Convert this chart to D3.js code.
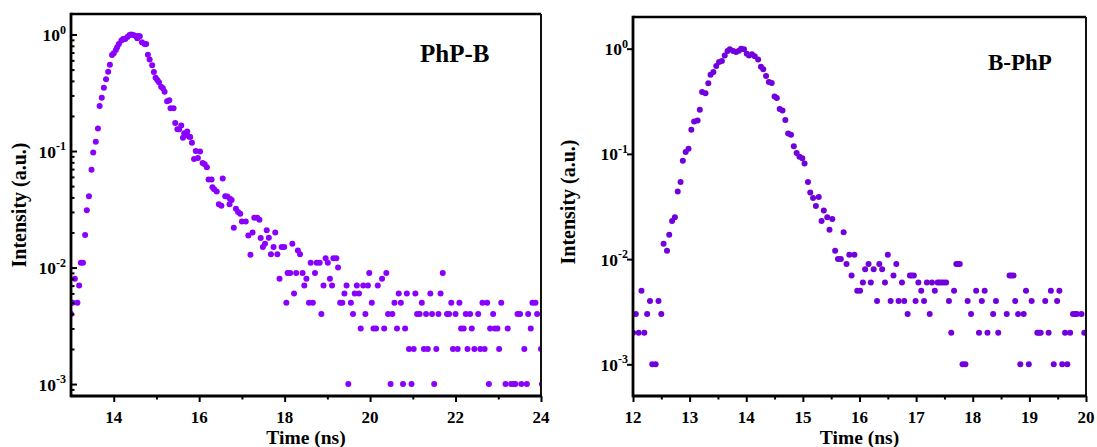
<!DOCTYPE html>
<html>
<head>
<meta charset="utf-8">
<script src="https://cdn.jsdelivr.net/npm/d3@7"></script>
<style>
  body { margin: 0; background: #fff; }
  svg { display: block; font-family: "Liberation Serif", "Times New Roman", serif; font-weight: bold; }
</style>
</head>
<body>
<svg id="chart" width="1097" height="447"></svg>
<script>
// PhP-B decay, left panel (time in ns, normalized intensity)
const timeA = [
  13.00, 13.04, 13.09, 13.15, 13.19, 13.23, 13.28, 13.33, 13.37, 13.42,
  13.48, 13.52, 13.58, 13.63, 13.67, 13.72, 13.77, 13.82, 13.87, 13.91,
  13.96, 14.00, 14.05, 14.08, 14.12, 14.18, 14.22, 14.27, 14.32, 14.37,
  14.41, 14.46, 14.52, 14.55, 14.57, 14.61, 14.66, 14.72, 14.76, 14.80,
  14.84, 14.90, 14.94, 14.98, 15.02, 15.06, 15.11, 15.15, 15.19, 15.25,
  15.30, 15.33, 15.40, 15.44, 15.49, 15.53, 15.58, 15.62, 15.65, 15.68,
  15.72, 15.76, 15.79, 15.83, 15.88, 15.92, 15.97, 16.02, 16.08, 16.13,
  16.18, 16.22, 16.29, 16.31, 16.35, 16.41, 16.46, 16.52, 16.55, 16.61,
  16.66, 16.71, 16.72, 16.76, 16.81, 16.86, 16.91, 16.96, 17.00, 17.09,
  17.15, 17.20, 17.25, 17.29, 17.36, 17.41, 17.44, 17.49, 17.54, 17.58,
  17.63, 17.68, 17.74, 17.78, 17.83, 17.88, 17.93, 17.99, 18.04, 18.07,
  18.13, 18.18, 18.22, 18.27, 18.31, 18.36, 18.42, 18.46, 18.51, 18.57,
  18.61, 18.66, 18.71, 18.75, 18.82, 18.86, 18.91, 18.96, 19.01, 19.06,
  19.11, 19.14, 19.21, 19.25, 19.30, 19.35, 19.40, 19.45, 19.49, 19.55,
  19.60, 19.64, 19.69, 19.74, 19.78, 19.84, 19.89, 19.95, 19.98, 20.04,
  20.08, 20.14, 20.18, 20.28, 20.33, 20.38, 20.42, 20.48, 20.52, 20.57,
  20.63, 20.67, 20.72, 20.77, 20.82, 20.86, 20.91, 20.97, 21.02, 21.06,
  21.10, 21.16, 21.21, 21.26, 21.31, 21.35, 21.41, 21.45, 21.50, 21.55,
  21.60, 21.65, 21.70, 21.80, 21.85, 21.90, 21.94, 22.00, 22.05, 22.09,
  22.13, 22.19, 22.24, 22.28, 22.34, 22.38, 22.44, 22.53, 22.58, 22.63,
  22.68, 22.74, 22.78, 22.81, 22.88, 22.92, 22.98, 23.02, 23.07, 23.17,
  23.22, 23.30, 23.36, 23.40, 23.45, 23.51, 23.54, 23.61, 23.67, 23.70,
  23.76, 23.80, 23.87, 23.91, 24.00, 24.02
];
const intA = [
  0.004, 0.005, 0.008, 0.005, 0.007, 0.011, 0.011, 0.019, 0.031, 0.041,
  0.069, 0.097, 0.12, 0.156, 0.244, 0.287, 0.35, 0.413, 0.48, 0.55,
  0.667, 0.69, 0.736, 0.776, 0.83, 0.89, 0.915, 0.915, 0.95, 0.99,
  1.0, 0.99, 0.965, 0.93, 0.97, 0.965, 0.857, 0.83, 0.83, 0.67,
  0.61, 0.544, 0.477, 0.426, 0.407, 0.389, 0.357, 0.346, 0.323, 0.267,
  0.273, 0.233, 0.233, 0.174, 0.154, 0.154, 0.166, 0.13, 0.142, 0.137,
  0.147, 0.133, 0.132, 0.118, 0.0855, 0.1, 0.087, 0.099, 0.079, 0.077,
  0.0726, 0.057, 0.057, 0.049, 0.047, 0.045, 0.035, 0.034, 0.058, 0.041,
  0.0407, 0.035, 0.039, 0.038, 0.022, 0.032, 0.030, 0.029, 0.0248, 0.0248,
  0.0188, 0.0129, 0.020, 0.0268, 0.0268, 0.0257, 0.0179, 0.015, 0.016, 0.0209,
  0.018, 0.013, 0.015, 0.020, 0.013, 0.008, 0.015, 0.015, 0.005, 0.009,
  0.009, 0.016, 0.006, 0.009, 0.014, 0.013, 0.009, 0.007, 0.008, 0.005,
  0.011, 0.005, 0.009, 0.011, 0.011, 0.004, 0.007, 0.012, 0.011, 0.008,
  0.007, 0.012, 0.012, 0.010, 0.005, 0.005, 0.006, 0.007, 0.001, 0.005,
  0.004, 0.006, 0.007, 0.006, 0.003, 0.007, 0.004, 0.007, 0.009, 0.005,
  0.003, 0.003, 0.007, 0.008, 0.003, 0.009, 0.004, 0.001, 0.004, 0.005,
  0.003, 0.006, 0.005, 0.001, 0.003, 0.006, 0.002, 0.001, 0.002, 0.006,
  0.004, 0.004, 0.005, 0.002, 0.004, 0.002, 0.006, 0.004, 0.001, 0.002,
  0.004, 0.006, 0.009, 0.004, 0.004, 0.005, 0.002, 0.004, 0.002, 0.005,
  0.003, 0.003, 0.004, 0.002, 0.004, 0.003, 0.002, 0.004, 0.002, 0.005,
  0.002, 0.005, 0.001, 0.003, 0.004, 0.003, 0.003, 0.002, 0.005, 0.001,
  0.003, 0.001, 0.001, 0.001, 0.004, 0.004, 0.001, 0.002, 0.001, 0.004,
  0.003, 0.005, 0.005, 0.004, 0.002, 0.001
];

// B-PhP decay, right panel
const timeB = [
  12.00, 12.05, 12.10, 12.15, 12.20, 12.25, 12.30, 12.34, 12.40, 12.45,
  12.50, 12.54, 12.60, 12.64, 12.69, 12.74, 12.79, 12.84, 12.88, 12.93,
  12.98, 13.03, 13.08, 13.14, 13.18, 13.22, 13.28, 13.33, 13.37, 13.42,
  13.47, 13.52, 13.57, 13.62, 13.67, 13.71, 13.77, 13.82, 13.87, 13.91,
  13.96, 14.01, 14.05, 14.10, 14.15, 14.21, 14.26, 14.30, 14.35, 14.40,
  14.45, 14.50, 14.54, 14.59, 14.64, 14.69, 14.74, 14.79, 14.84, 14.89,
  14.94, 14.99, 15.03, 15.09, 15.13, 15.18, 15.23, 15.28, 15.33, 15.37,
  15.43, 15.47, 15.52, 15.57, 15.62, 15.67, 15.72, 15.77, 15.82, 15.86,
  15.91, 15.96, 16.01, 16.06, 16.10, 16.16, 16.20, 16.25, 16.31, 16.35,
  16.40, 16.45, 16.50, 16.55, 16.60, 16.65, 16.69, 16.75, 16.79, 16.85,
  16.89, 16.92, 16.96, 16.99, 17.04, 17.09, 17.14, 17.19, 17.24, 17.28,
  17.33, 17.38, 17.41, 17.45, 17.49, 17.53, 17.58, 17.62, 17.67, 17.71,
  17.74, 17.77, 17.82, 17.87, 17.91, 17.97, 18.06, 18.11, 18.16, 18.21,
  18.26, 18.36, 18.41, 18.45, 18.60, 18.65, 18.68, 18.72, 18.75, 18.80,
  18.84, 18.90, 18.94, 18.99, 19.04, 19.14, 19.17, 19.20, 19.28, 19.34,
  19.38, 19.43, 19.49, 19.53, 19.58, 19.63, 19.67, 19.72, 19.77, 19.81,
  19.84, 19.92, 19.97
];
const intB = [
  0.002, 0.003, 0.002, 0.005, 0.002, 0.003, 0.004, 0.001, 0.001, 0.004,
  0.003, 0.014, 0.012, 0.017, 0.023, 0.025, 0.044, 0.054, 0.086, 0.104,
  0.112, 0.17, 0.203, 0.208, 0.263, 0.387, 0.376, 0.468, 0.566, 0.60,
  0.684, 0.746, 0.762, 0.863, 0.948, 0.99, 0.948, 0.93, 0.957, 1.0,
  0.99, 0.896, 0.86, 0.884, 0.845, 0.79, 0.675, 0.636, 0.55, 0.482,
  0.471, 0.352, 0.34, 0.267, 0.258, 0.21, 0.156, 0.152, 0.118, 0.102,
  0.094, 0.091, 0.081, 0.054, 0.043, 0.038, 0.032, 0.039, 0.023, 0.029,
  0.025, 0.019, 0.024, 0.012, 0.010, 0.010, 0.018, 0.009, 0.011, 0.007,
  0.011, 0.005, 0.005, 0.006, 0.008, 0.009, 0.006, 0.008, 0.004, 0.009,
  0.008, 0.006, 0.011, 0.004, 0.007, 0.009, 0.004, 0.006, 0.004, 0.003,
  0.007, 0.007, 0.007, 0.004, 0.006, 0.005, 0.004, 0.006, 0.003, 0.006,
  0.005, 0.006, 0.006, 0.006, 0.006, 0.006, 0.004, 0.002, 0.005, 0.009,
  0.009, 0.009, 0.001, 0.001, 0.004, 0.003, 0.005, 0.002, 0.004, 0.005,
  0.002, 0.003, 0.004, 0.002, 0.003, 0.007, 0.007, 0.007, 0.004, 0.003,
  0.001, 0.003, 0.005, 0.001, 0.004, 0.002, 0.002, 0.002, 0.004, 0.002,
  0.005, 0.001, 0.004, 0.005, 0.001, 0.002, 0.001, 0.002, 0.003, 0.003,
  0.003, 0.003, 0.002
];

// tick values and labels
const xTicksA = [14, 16, 18, 20, 22, 24];
const xMinorA = [15, 17, 19, 21, 23];
const xTicksB = [12, 13, 14, 15, 16, 17, 18, 19, 20];
const xMinorB = [12.5, 13.5, 14.5, 15.5, 16.5, 17.5, 18.5, 19.5];
const yTicks = [1, 0.1, 0.01, 0.001];
const yExponents = ['0', '-1', '-2', '-3'];
const panelNames = ['PhP-B', 'B-PhP'];

const svg = d3.select('#chart');

function drawPanel(p) {
    const x = d3.scaleLinear().domain(p.xDomain).range([p.left, p.right]);
    const y = d3.scaleLog().domain(p.yDomain).range([p.bottom, p.top]);
    const g = svg.append('g');

    // clip dots to the frame
    g.append('clipPath').attr('id', p.id + '-clip')
        .append('rect')
        .attr('x', p.left).attr('y', p.top)
        .attr('width', p.right - p.left).attr('height', p.bottom - p.top);

    const pts = p.times.map((t, i) => ({ t: t, v: p.values[i] }));
    g.append('g').attr('clip-path', `url(#${p.id}-clip)`)
        .selectAll('circle').data(pts).enter()
        .append('circle')
        .attr('cx', d => x(d.t))
        .attr('cy', d => y(d.v))
        .attr('r', 3)
        .attr('fill', p.color);

    // x axis, major + minor ticks
    g.append('g').attr('transform', `translate(0,${p.bottom})`)
        .call(d3.axisBottom(x).tickValues(p.xTicks).tickSize(6).tickFormat(''))
        .select('.domain').remove();
    g.append('g').attr('transform', `translate(0,${p.bottom})`)
        .call(d3.axisBottom(x).tickValues(p.xMinor).tickSize(3.5).tickFormat(''))
        .select('.domain').remove();

    g.selectAll('.xlab').data(p.xTicks).enter()
        .append('text')
        .attr('x', d => x(d)).attr('y', 422.5)
        .attr('text-anchor', 'middle')
        .attr('font-size', 17)
        .text(d => d);

    // y axis (log), ticks inside or outside
    const dir = p.yInside ? -1 : 1;
    g.append('g').attr('transform', `translate(${p.left},0)`)
        .call(d3.axisLeft(y).tickValues(yTicks).tickSize(dir * 6).tickFormat(''))
        .select('.domain').remove();
    if (p.yMinor) {
        const minor = [];
        for (let e = -4; e <= 0; e++) {
            for (let m = 2; m <= 9; m++) {
                const v = m * Math.pow(10, e);
                if (v > p.yDomain[0] && v < p.yDomain[1]) minor.push(v);
            }
        }
        g.append('g').attr('transform', `translate(${p.left},0)`)
            .call(d3.axisLeft(y).tickValues(minor).tickSize(dir * 3.5).tickFormat(''))
            .select('.domain').remove();
    }

    yTicks.forEach((v, i) => {
        const t = g.append('text')
            .attr('x', p.yLabelX).attr('y', y(v) + 6.5)
            .attr('text-anchor', 'end')
            .attr('font-size', 17.5);
        t.append('tspan').text('10');
        t.append('tspan').attr('dy', -7.5).attr('font-size', 12).text(yExponents[i]);
    });

    g.selectAll('.tick line').attr('stroke', '#000').attr('stroke-width', 2);

    // frame
    g.append('line').attr('x1', p.left).attr('x2', p.right).attr('y1', p.top).attr('y2', p.top)
        .attr('stroke', '#000').attr('stroke-width', 2.6);
    g.append('line').attr('x1', p.right).attr('x2', p.right).attr('y1', p.top).attr('y2', p.bottom)
        .attr('stroke', '#111').attr('stroke-width', 2);
    g.append('line').attr('x1', p.left).attr('x2', p.left).attr('y1', p.top - 1.3).attr('y2', p.bottom + 1.3)
        .attr('stroke', '#000').attr('stroke-width', 2.8);
    g.append('line').attr('x1', p.left).attr('x2', p.right + 1).attr('y1', p.bottom).attr('y2', p.bottom)
        .attr('stroke', '#000').attr('stroke-width', 2.8);

    // titles
    g.append('text')
        .attr('x', (p.left + p.right) / 2).attr('y', 443.5)
        .attr('text-anchor', 'middle').attr('font-size', 19.5)
        .text('Time (ns)');
    g.append('text')
        .attr('transform', `translate(${p.yTitleX},${p.yTitleY}) rotate(-90)`)
        .attr('text-anchor', 'middle').attr('font-size', 20)
        .text('Intensity (a.u.)');
    g.append('text')
        .attr('x', p.nameX).attr('y', p.nameY)
        .attr('font-size', p.nameSize)
        .text(p.name);
}

drawPanel({
    id: 'a', times: timeA, values: intA, color: '#8a00ff',
    left: 71, right: 541, top: 14, bottom: 396,
    xDomain: [13, 24], yDomain: [7.9e-4, 1.5],
    xTicks: xTicksA, xMinor: xMinorA,
    yInside: true, yMinor: true, yLabelX: 66,
    yTitleX: 26, yTitleY: 205,
    name: panelNames[0], nameX: 420, nameY: 62, nameSize: 25
});

drawPanel({
    id: 'b', times: timeB, values: intB, color: '#7100dc',
    left: 633, right: 1086, top: 17, bottom: 396,
    xDomain: [12, 20], yDomain: [5e-4, 2],
    xTicks: xTicksB, xMinor: xMinorB,
    yInside: false, yMinor: false, yLabelX: 628,
    yTitleX: 575, yTitleY: 202,
    name: panelNames[1], nameX: 988, nameY: 70, nameSize: 23
});
</script>
</body>
</html>
